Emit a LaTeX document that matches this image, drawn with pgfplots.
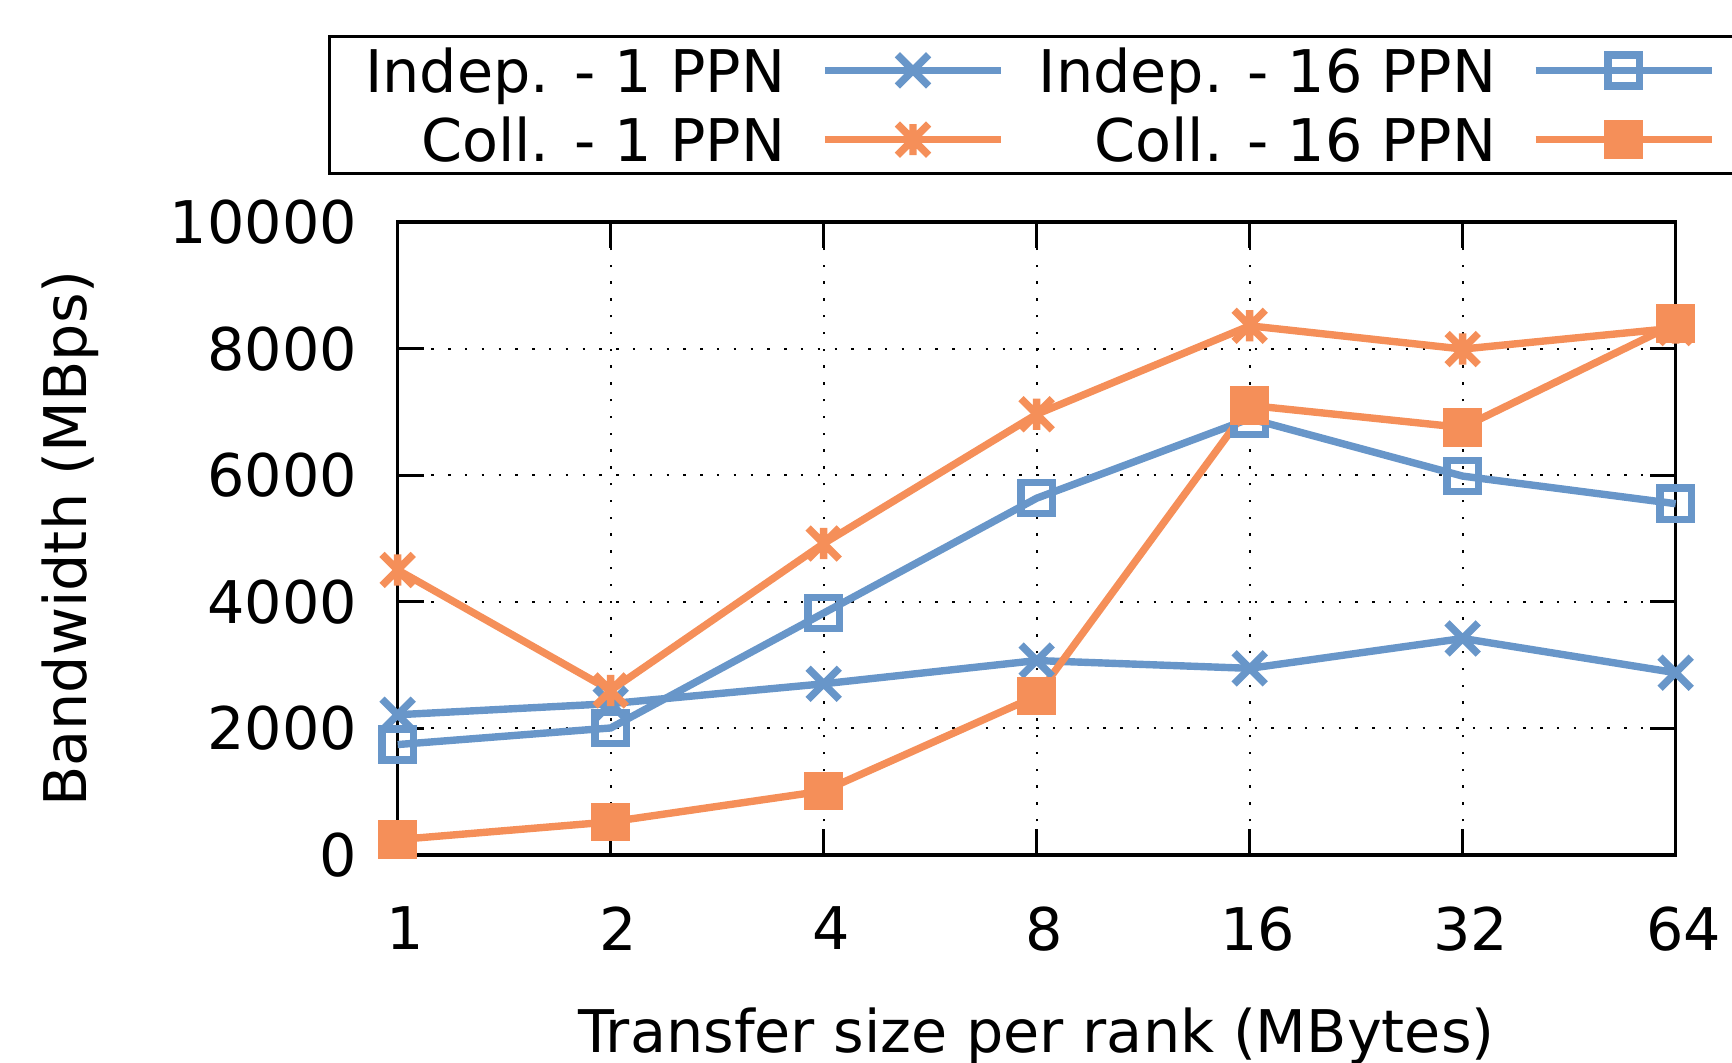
\documentclass[border=0pt]{standalone}
\usepackage{fontspec}
\setmainfont{DejaVu Sans}
\usepackage{pgfplots}
\pgfplotsset{compat=1.18}
\definecolor{cblue}{RGB}{104,150,201}
\definecolor{corange}{RGB}{245,143,89}
\pgfdeclareplotmark{gx}{%
  \pgfpathmoveto{\pgfqpoint{-\pgfplotmarksize}{-\pgfplotmarksize}}%
  \pgfpathlineto{\pgfqpoint{\pgfplotmarksize}{\pgfplotmarksize}}%
  \pgfpathmoveto{\pgfqpoint{-\pgfplotmarksize}{\pgfplotmarksize}}%
  \pgfpathlineto{\pgfqpoint{\pgfplotmarksize}{-\pgfplotmarksize}}%
  \pgfusepathqstroke}
\pgfdeclareplotmark{gstar}{%
  \pgfpathmoveto{\pgfqpoint{-\pgfplotmarksize}{-\pgfplotmarksize}}%
  \pgfpathlineto{\pgfqpoint{\pgfplotmarksize}{\pgfplotmarksize}}%
  \pgfpathmoveto{\pgfqpoint{-\pgfplotmarksize}{\pgfplotmarksize}}%
  \pgfpathlineto{\pgfqpoint{\pgfplotmarksize}{-\pgfplotmarksize}}%
  \pgfpathmoveto{\pgfqpoint{0pt}{-\pgfplotmarksize}}%
  \pgfpathlineto{\pgfqpoint{0pt}{\pgfplotmarksize}}%
  \pgfusepathqstroke}
\newcommand{\ff}{\fontsize{14.7}{18}\selectfont}
\begin{document}
\begin{tikzpicture}
\begin{axis}[
  scale only axis, width=319.5pt, height=158.25pt,
  xmin=0, xmax=6, ymin=0, ymax=10000,
  scaled y ticks=false, scaled x ticks=false,
  xtick={0,1,2,3,4,5,6}, xticklabels={1,2,4,8,16,32,64},
  ytick={0,2000,4000,6000,8000,10000}, yticklabels={0,2000,4000,6000,8000,10000},
  tick pos=both, tick align=inside, major tick length=6.5pt, minor tick num=0,
  axis line style={black, line width=0.8pt},
  every tick/.style={black, line width=0.8pt},
  grid=major, major grid style={black, line width=0.5pt, dash pattern=on 0.6pt off 3.6pt},
  tick label style={font=\ff},
  yticklabel style={anchor=east, inner sep=0pt, xshift=-10pt},
  xticklabel style={anchor=north, inner sep=0pt, yshift=-12.8pt, xshift=2pt},
  xlabel={Transfer size per rank (MBytes)},
  ylabel={Bandwidth (MBps)},
  every axis x label/.style={at={(axis description cs:0.5,-0.312)}, anchor=base, font=\ff},
  every axis y label/.style={at={(axis description cs:-0.2438,0.5)}, rotate=90, anchor=base, font=\ff},
  clip=false,
  legend columns=2, legend plot pos=right, legend cell align=right,
  legend style={at={(axis description cs:-0.0546,1.2954)}, anchor=north west,
    draw=black, line width=0.7pt, inner xsep=9pt, inner ysep=3pt, font=\ff,
    nodes={inner sep=0pt, text height=11pt, text depth=0pt},
    row sep=6.3pt,
    /tikz/every odd column/.append style={column sep=9pt},
    /tikz/every even column/.append style={column sep=8.5pt}},
  legend image code/.code={\draw[mark repeat=2,mark phase=2,#1] plot coordinates {(0pt,0pt) (22pt,0pt) (44pt,0pt)};},
]
\addplot[cblue, line width=1.85pt, mark=gx, mark size=3.9pt, mark options={solid}] coordinates {
(0,2216) (1,2391) (2,2705) (3,3072) (4,2949) (5,3421) (6,2880)};
\addlegendentry{Indep. - 1 PPN}
\addplot[cblue, line width=1.85pt, mark=square, mark size=3.9pt, mark options={solid}] coordinates {
(0,1745) (1,2007) (2,3822) (3,5637) (4,6894) (5,5986) (6,5550)};
\addlegendentry{Indep. - 16 PPN}
\addplot[corange, line width=1.85pt, mark=gstar, mark size=3.9pt, mark options={solid}] coordinates {
(0,4503) (1,2600) (2,4921) (3,6963) (4,8360) (5,7993) (6,8325)};
\addlegendentry{Coll. - 1 PPN}
\addplot[corange, line width=1.85pt, mark=square*, mark size=3.9pt, mark options={solid, fill=corange}] coordinates {
(0,244) (1,524) (2,1012) (3,2513) (4,7103) (5,6754) (6,8394)};
\addlegendentry{Coll. - 16 PPN}
\coordinate (bl) at (rel axis cs:0,0);
\end{axis}
\pgfresetboundingbox
\path (bl) ++(-99.425pt,-51.75pt) coordinate (A);
\path (bl) ++(333.575pt,213.75pt) coordinate (B);
\useasboundingbox (A) rectangle (B);
\end{tikzpicture}
\end{document}
